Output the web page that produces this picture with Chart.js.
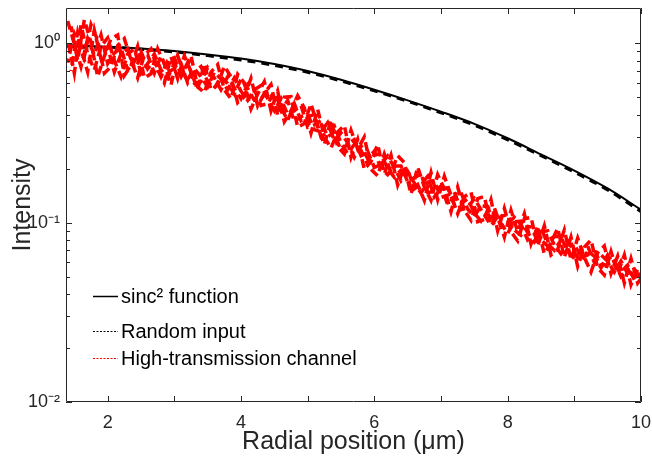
<!DOCTYPE html>
<html>
<head>
<meta charset="utf-8">
<script src="https://cdn.jsdelivr.net/npm/chart.js@4"></script>
<style>
  html, body { margin: 0; padding: 0; background: #fff; }
  canvas { display: block; }
</style>
</head>
<body>
<canvas id="chart" width="652" height="463"></canvas>
<script>
// sinc^2 function
var sincX = [1.38, 2.0, 2.5, 3.0, 3.5, 4.0, 4.5, 5.0, 5.5, 6.0, 6.5, 7.0, 7.5, 8.0, 8.5, 9.0, 9.5, 10.0];
var sincY = [0.975, 0.955, 0.935, 0.905, 0.865, 0.82, 0.765, 0.70, 0.625, 0.55, 0.48, 0.415, 0.355, 0.295, 0.24, 0.195, 0.155, 0.118];

// random input
var randX = [1.38, 1.75, 2.0, 2.5, 3.0, 3.25, 3.5, 4.0, 4.5, 5.0, 5.5, 6.0, 6.5, 7.0, 7.5, 8.0, 8.5, 9.0, 9.5, 10.0];
var randY = [0.965, 0.945, 0.948, 0.925, 0.893, 0.875, 0.852, 0.806, 0.752, 0.688, 0.615, 0.542, 0.474, 0.409, 0.349, 0.289, 0.236, 0.191, 0.152, 0.115];

// high-transmission channel, several noisy realisations
var highX = [1.4, 1.5, 1.6, 1.7, 1.8, 1.9, 2.0, 2.1, 2.2, 2.3, 2.4, 2.5, 2.6, 2.7, 2.8, 2.9,
  3.0, 3.1, 3.2, 3.3, 3.4, 3.5, 3.6, 3.7, 3.8, 3.9, 4.0, 4.1, 4.2, 4.3, 4.4, 4.5, 4.6, 4.7, 4.8, 4.9,
  5.0, 5.1, 5.2, 5.3, 5.4, 5.5, 5.6, 5.7, 5.8, 5.9, 6.0, 6.1, 6.2, 6.3, 6.4, 6.5, 6.6, 6.7, 6.8, 6.9,
  7.0, 7.1, 7.2, 7.3, 7.4, 7.5, 7.6, 7.7, 7.8, 7.9, 8.0, 8.1, 8.2, 8.3, 8.4, 8.5, 8.6, 8.7, 8.8, 8.9,
  9.0, 9.1, 9.2, 9.3, 9.4, 9.5, 9.6, 9.7, 9.8, 9.9, 10.0];
var highX2 = [1.45, 1.55, 1.65, 1.75, 1.85, 1.95, 2.05, 2.15, 2.25, 2.35, 2.45, 2.55, 2.65, 2.75, 2.85, 2.95,
  3.05, 3.15, 3.25, 3.35, 3.45, 3.55, 3.65, 3.75, 3.85, 3.95, 4.05, 4.15, 4.25, 4.35, 4.45, 4.55, 4.65, 4.75, 4.85, 4.95,
  5.05, 5.15, 5.25, 5.35, 5.45, 5.55, 5.65, 5.75, 5.85, 5.95, 6.05, 6.15, 6.25, 6.35, 6.45, 6.55, 6.65, 6.75, 6.85, 6.95,
  7.05, 7.15, 7.25, 7.35, 7.45, 7.55, 7.65, 7.75, 7.85, 7.95, 8.05, 8.15, 8.25, 8.35, 8.45, 8.55, 8.65, 8.75, 8.85, 8.95,
  9.05, 9.15, 9.25, 9.35, 9.45, 9.55, 9.65, 9.75, 9.85, 9.95, 10.05];
var highA = [1.33, 0.99, 0.74, 1.06, 0.86, 1.11, 0.77, 0.88, 0.94, 0.71, 0.79, 0.90, 0.72, 0.80, 0.65, 0.80,
  0.83, 0.67, 0.63, 0.72, 0.65, 0.57, 0.69, 0.63, 0.55, 0.64, 0.54, 0.48, 0.55, 0.58, 0.49, 0.42, 0.49, 0.40, 0.42, 0.45,
  0.34, 0.35, 0.37, 0.30, 0.32, 0.25, 0.275, 0.29, 0.236, 0.25, 0.203, 0.211, 0.235, 0.203, 0.171, 0.193, 0.166, 0.146, 0.168, 0.171,
  0.138, 0.142, 0.148, 0.118, 0.121, 0.136, 0.118, 0.103, 0.114, 0.099, 0.087, 0.101, 0.102, 0.088, 0.078, 0.089, 0.090, 0.075, 0.067, 0.075,
  0.076, 0.064, 0.066, 0.071, 0.058, 0.058, 0.061, 0.050, 0.055, 0.049, 0.052];
var highB = [0.78, 1.13, 0.93, 0.69, 1.18, 0.82, 0.95, 0.69, 0.87, 0.93, 0.73, 0.82, 0.86, 0.68, 0.85, 0.69,
  0.72, 0.77, 0.60, 0.69, 0.74, 0.61, 0.56, 0.65, 0.595, 0.52, 0.63, 0.56, 0.48, 0.49, 0.54, 0.49, 0.42, 0.48, 0.365, 0.39,
  0.40, 0.33, 0.32, 0.36, 0.287, 0.316, 0.278, 0.231, 0.268, 0.227, 0.25, 0.20, 0.185, 0.207, 0.207, 0.169, 0.178, 0.186, 0.147, 0.149,
  0.16, 0.126, 0.139, 0.147, 0.119, 0.108, 0.124, 0.123, 0.10, 0.108, 0.111, 0.091, 0.085, 0.095, 0.094, 0.080, 0.074, 0.084, 0.083, 0.069,
  0.063, 0.071, 0.074, 0.060, 0.066, 0.061, 0.053, 0.061, 0.052, 0.055, 0.0485];
var highC = [1.05, 0.68, 1.26, 0.87, 0.71, 0.96, 1.07, 0.80, 0.65, 0.87, 0.93, 0.68, 0.77, 0.87, 0.71, 0.64,
  0.77, 0.65, 0.78, 0.60, 0.61, 0.73, 0.64, 0.55, 0.65, 0.56, 0.49, 0.59, 0.55, 0.45, 0.46, 0.53, 0.44, 0.37, 0.46, 0.37,
  0.39, 0.40, 0.30, 0.32, 0.345, 0.278, 0.242, 0.273, 0.253, 0.21, 0.239, 0.241, 0.20, 0.179, 0.196, 0.198, 0.154, 0.164, 0.181, 0.139,
  0.155, 0.156, 0.126, 0.127, 0.136, 0.113, 0.102, 0.115, 0.121, 0.095, 0.099, 0.107, 0.098, 0.080, 0.086, 0.093, 0.076, 0.070, 0.080, 0.081,
  0.067, 0.061, 0.069, 0.065, 0.056, 0.066, 0.058, 0.053, 0.058, 0.048, 0.0495];
var highD = [1.24, 0.80, 1.35, 1.01, 0.65, 0.845, 1.06, 1.11, 0.66, 0.75, 0.96, 0.64, 0.675, 0.93, 0.77, 0.585,
  0.85, 0.67, 0.85, 0.57, 0.53, 0.69, 0.76, 0.55, 0.49, 0.67, 0.60, 0.43, 0.52, 0.61, 0.42, 0.54, 0.365, 0.42, 0.51, 0.435,
  0.315, 0.428, 0.30, 0.26, 0.32, 0.348, 0.231, 0.291, 0.198, 0.219, 0.272, 0.187, 0.237, 0.162, 0.205, 0.144, 0.204, 0.158, 0.133, 0.185,
  0.154, 0.115, 0.158, 0.117, 0.103, 0.136, 0.140, 0.096, 0.108, 0.083, 0.117, 0.089, 0.112, 0.076, 0.095, 0.067, 0.077, 0.093, 0.064, 0.083,
  0.057, 0.073, 0.080, 0.056, 0.051, 0.069, 0.052, 0.066, 0.045, 0.055, 0.046];
var highE = [0.70, 1.15, 0.84, 1.27, 1.04, 0.68, 0.74, 0.97, 1.06, 0.81, 0.64, 0.86, 0.93, 0.71, 0.60, 0.84,
  0.635, 0.85, 0.695, 0.55, 0.77, 0.55, 0.586, 0.744, 0.649, 0.466, 0.504, 0.637, 0.447, 0.525, 0.588, 0.395, 0.50, 0.503, 0.34, 0.356,
  0.46, 0.342, 0.272, 0.374, 0.265, 0.241, 0.327, 0.257, 0.30, 0.198, 0.182, 0.241, 0.19, 0.236, 0.216, 0.153, 0.163, 0.133, 0.19, 0.134,
  0.181, 0.142, 0.112, 0.139, 0.148, 0.101, 0.104, 0.134, 0.09, 0.12, 0.089, 0.079, 0.105, 0.107, 0.074, 0.096, 0.066, 0.071, 0.091, 0.062,
  0.082, 0.064, 0.053, 0.068, 0.074, 0.052, 0.065, 0.046, 0.063, 0.046, 0.0515];

var xTicks = [2, 3, 4, 5, 6, 7, 8, 9, 10];
var xLabels = {2: "2", 4: "4", 6: "6", 8: "8", 10: "10"};
var yTicks = [0.01, 0.1, 1];
var yLabels = {0.01: "10\u207B\u00B2", 0.1: "10\u207B\u00B9", 1: "10\u2070"};
var legendNames = ["sinc\u00B2 function", "Random input", "High-transmission channel"];

var axisColor = "#262626";
var fontFamily = "'Liberation Sans', Arial, sans-serif";

function pts(xs, ys) {
    return xs.map(function (x, i) { return {x: x, y: ys[i]}; });
}

function redSet(xs, ys, offset) {
    return {
        data: pts(xs, ys),
        borderColor: "#ff0000",
        borderWidth: 3.5,
        borderDash: [9, 5],
        borderDashOffset: offset,
        pointRadius: 0,
        tension: 0
    };
}

// box, inward ticks and legend drawn on top, matlab style
var framePlugin = {
    id: "frame",
    afterDatasetsDraw: function (chart) {
        var ctx = chart.ctx, a = chart.chartArea;
        var xs = chart.scales.x, ys = chart.scales.y;
        ctx.save();
        ctx.strokeStyle = axisColor;
        ctx.lineWidth = 1;
        ctx.beginPath();
        ctx.rect(a.left + 0.5, a.top + 0.5, a.right - a.left - 1, a.bottom - a.top - 1);
        xTicks.forEach(function (v) {
            var px = Math.round(xs.getPixelForValue(v)) + 0.5;
            ctx.moveTo(px, a.bottom); ctx.lineTo(px, a.bottom - 6);
            ctx.moveTo(px, a.top); ctx.lineTo(px, a.top + 6);
        });
        yTicks.forEach(function (d) {
            for (var m = 1; m < 10; m++) {
                var v = d * m;
                if (v < ys.min || v > ys.max) continue;
                var py = Math.round(ys.getPixelForValue(v)) + 0.5;
                var len = m === 1 ? 6 : 4;
                ctx.moveTo(a.left, py); ctx.lineTo(a.left + len, py);
                ctx.moveTo(a.right, py); ctx.lineTo(a.right - len, py);
            }
        });
        ctx.stroke();

        // legend
        var rows = [
            {y: 296, color: "#000", dash: [], width: 1.5},
            {y: 331, color: "#000", dash: [2, 1.5], width: 1},
            {y: 358, color: "#ff0000", dash: [2, 1.5], width: 1}
        ];
        ctx.font = "20px " + fontFamily;
        ctx.textBaseline = "middle";
        ctx.fillStyle = "#000";
        rows.forEach(function (r, i) {
            ctx.beginPath();
            ctx.strokeStyle = r.color;
            ctx.lineWidth = r.width;
            ctx.setLineDash(r.dash);
            ctx.moveTo(93, r.y + 0.5); ctx.lineTo(118, r.y + 0.5);
            ctx.stroke();
            ctx.fillText(legendNames[i], 121, r.y + 1);
        });
        ctx.restore();
    }
};

new Chart("chart", {
    type: "line",
    data: {
        datasets: [
            redSet(highX, highA, 0), redSet(highX, highB, 5), redSet(highX, highC, 10),
            redSet(highX2, highD, 3), redSet(highX2, highE, 8), {
            data: pts(randX, randY),
            borderColor: "#000",
            borderWidth: 3,
            borderDash: [8, 6],
            pointRadius: 0,
            cubicInterpolationMode: "monotone"
        }, {
            data: pts(sincX, sincY),
            borderColor: "#000",
            borderWidth: 2,
            pointRadius: 0,
            cubicInterpolationMode: "monotone"
        }]
    },
    options: {
        responsive: false,
        animation: false,
        devicePixelRatio: 1,
        layout: {padding: {top: 8, right: 11, left: 0, bottom: 0}},
        plugins: {legend: {display: false}, tooltip: {enabled: false}},
        scales: {
            x: {
                type: "linear",
                min: 1.375,
                max: 10,
                afterBuildTicks: function (s) { s.ticks = xTicks.map(function (v) { return {value: v}; }); },
                afterFit: function (s) { s.height = 61; s.paddingLeft = 0; s.paddingRight = 0; },
                grid: {display: false, drawTicks: false},
                border: {display: false},
                ticks: {
                    autoSkip: false,
                    maxRotation: 0,
                    padding: 10,
                    color: axisColor,
                    font: {family: fontFamily, size: 18},
                    callback: function (v) { return xLabels[v] || ""; }
                },
                title: {
                    display: true,
                    text: "Radial position (\u03BCm)",
                    color: axisColor,
                    font: {family: fontFamily, size: 25},
                    padding: {top: 0, bottom: 6}
                }
            },
            y: {
                type: "logarithmic",
                min: 0.01,
                max: 1.57,
                afterBuildTicks: function (s) { s.ticks = yTicks.map(function (v) { return {value: v}; }); },
                afterFit: function (s) { s.width = 66; s.paddingTop = 0; s.paddingBottom = 0; },
                grid: {display: false, drawTicks: false},
                border: {display: false},
                ticks: {
                    autoSkip: false,
                    padding: 6,
                    color: axisColor,
                    font: {family: fontFamily, size: 18},
                    callback: function (v) { return yLabels[v] || ""; }
                },
                title: {
                    display: true,
                    text: "Intensity",
                    color: axisColor,
                    font: {family: fontFamily, size: 25},
                    padding: {top: 8, bottom: 0}
                }
            }
        }
    },
    plugins: [framePlugin]
});
</script>
</body>
</html>
